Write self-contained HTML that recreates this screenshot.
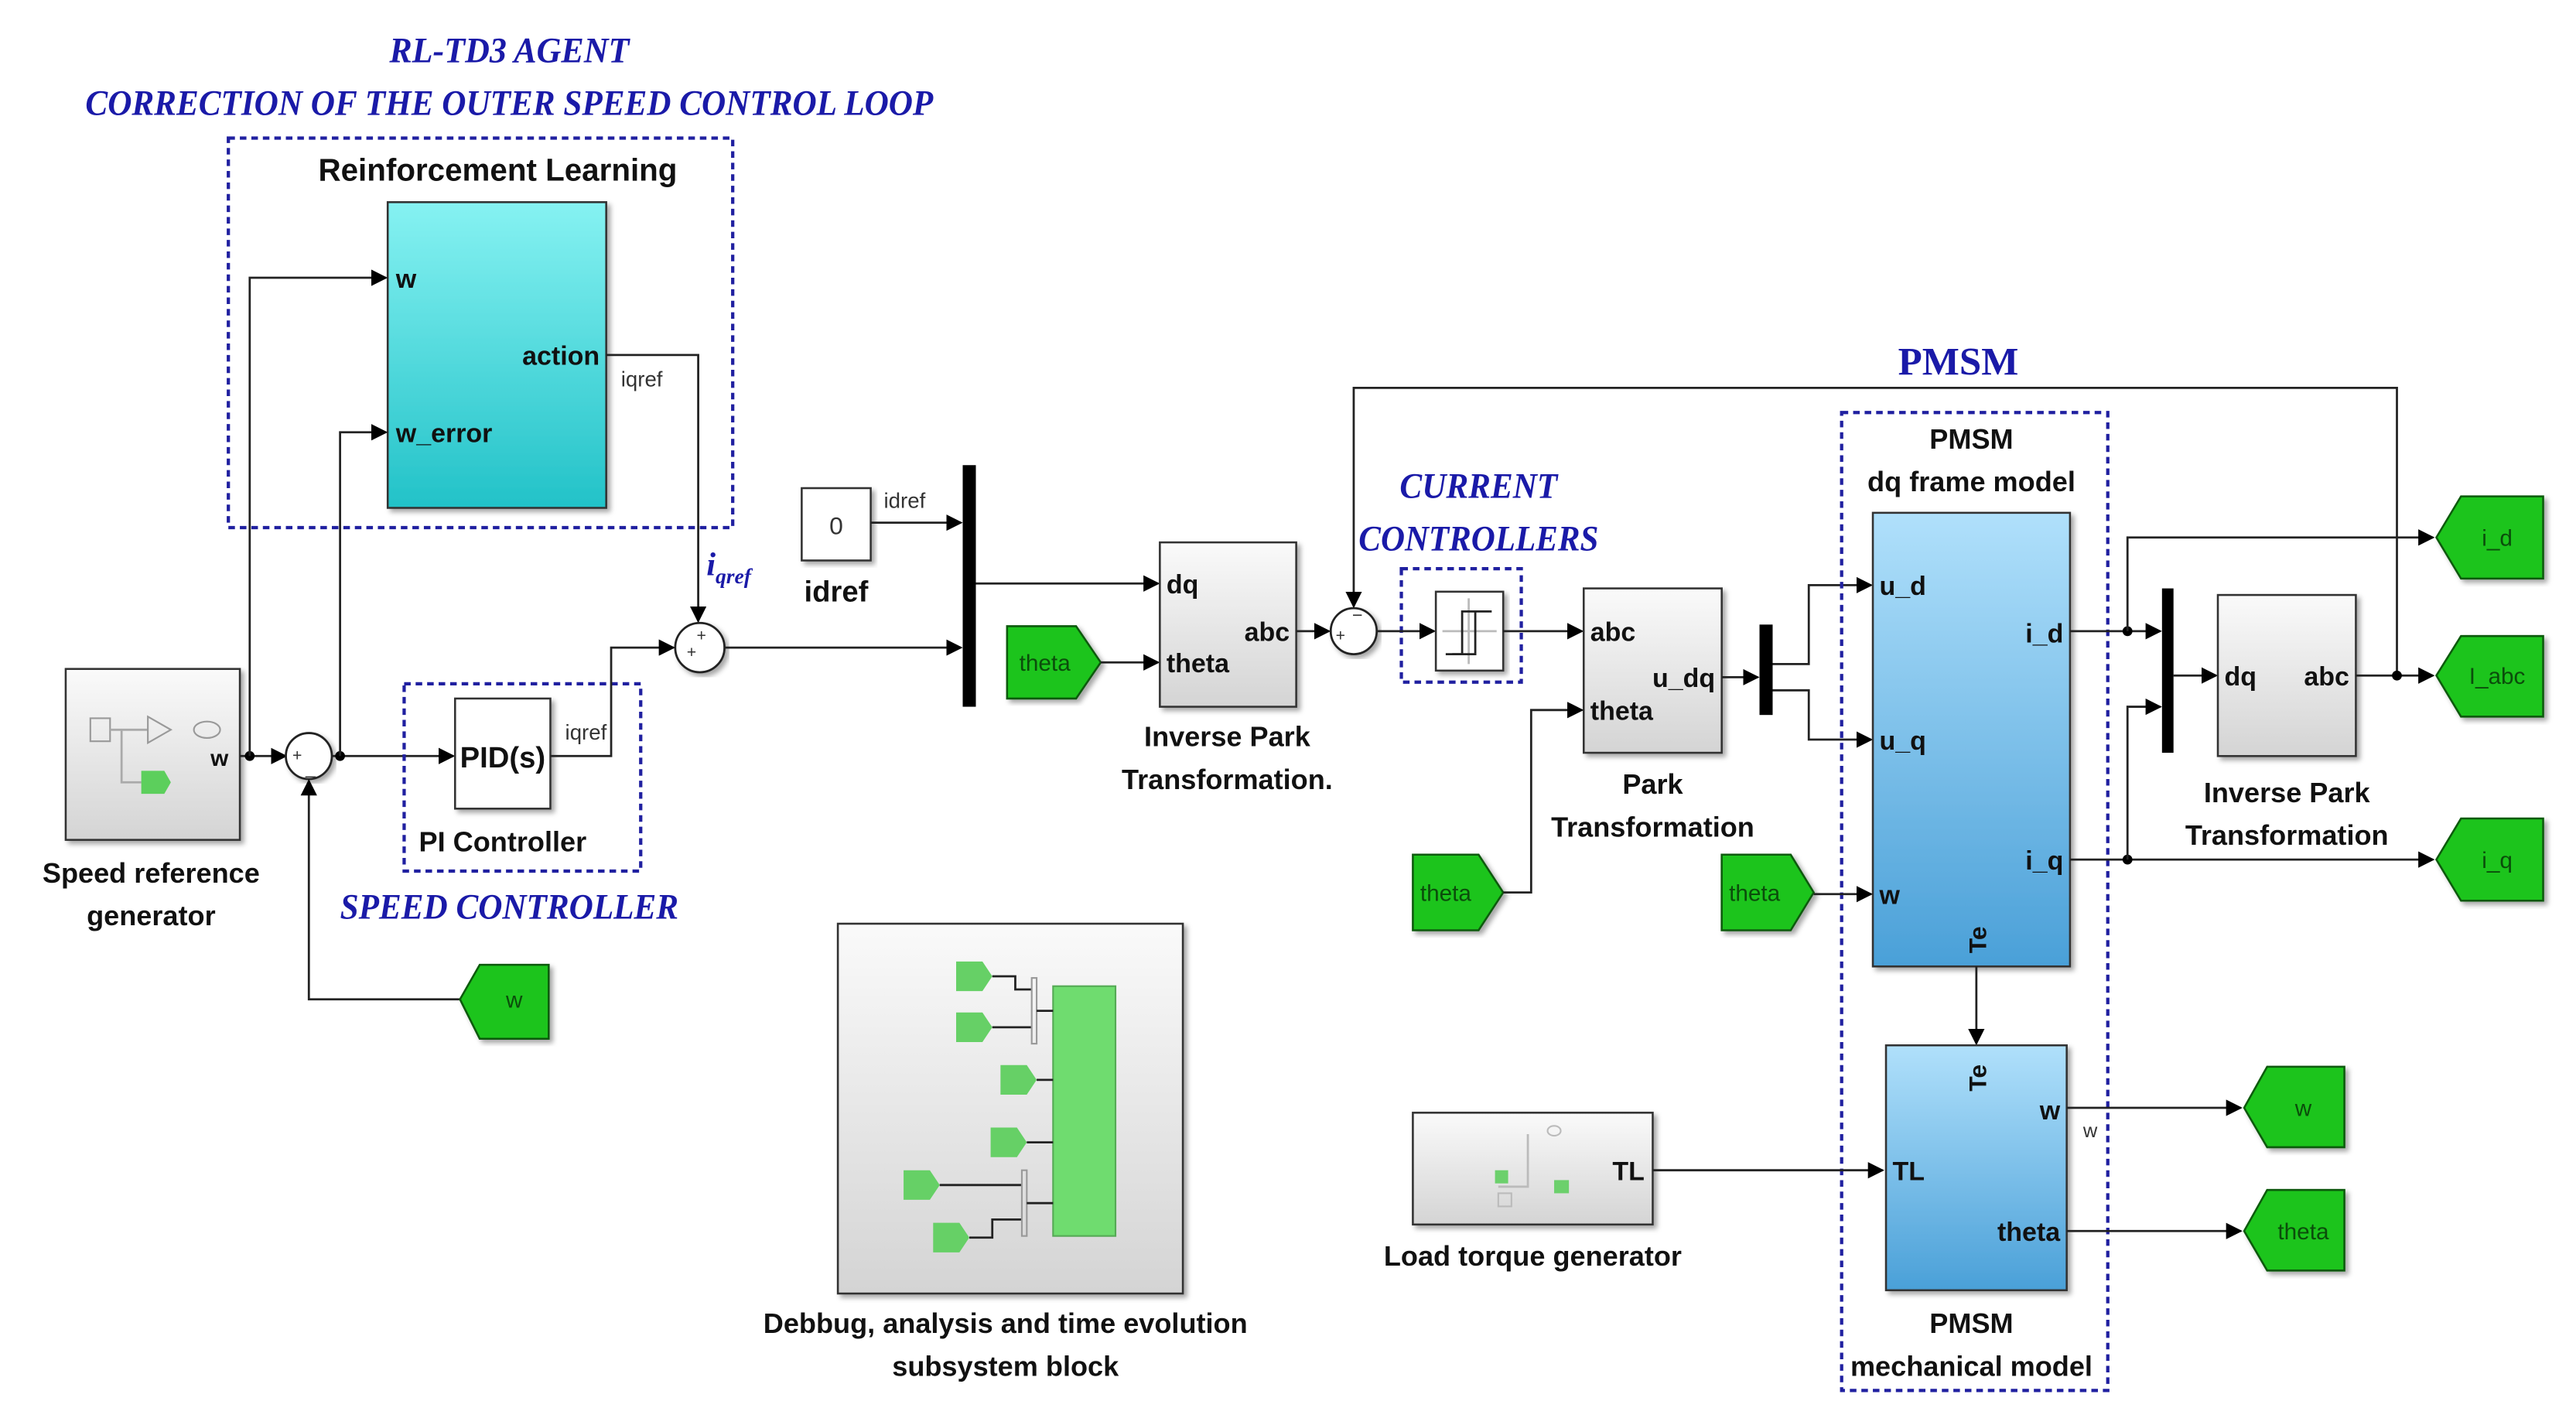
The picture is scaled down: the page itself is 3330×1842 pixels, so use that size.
<!DOCTYPE html>
<html><head><meta charset="utf-8"><style>
html,body{margin:0;padding:0;background:#fff;}
svg{display:block;}
.t{font-family:"Liberation Sans",sans-serif;font-weight:bold;fill:#111;}
.b{font-family:"Liberation Serif",serif;font-weight:bold;font-style:italic;fill:#1a1aa8;}
.s{font-family:"Liberation Sans",sans-serif;fill:#333;}
.g{font-family:"Liberation Sans",sans-serif;fill:#0b4d0b;font-size:14px;}
line,polyline,path.l{stroke:#222;stroke-width:1.3;fill:none;}
.d{stroke:#2020a0;stroke-width:2;fill:none;stroke-dasharray:4 3;}
.tag{fill:#1ec41e;stroke:#0a5a0a;stroke-width:1.2;}
.blk{stroke:#333;stroke-width:1.2;}
</style></head><body>
<svg width="3330" height="1842" viewBox="0 0 1568 867" preserveAspectRatio="none" xmlns="http://www.w3.org/2000/svg">
<defs>
<marker id="a" markerWidth="10" markerHeight="10" refX="9" refY="5" orient="auto" markerUnits="userSpaceOnUse"><path d="M0,0 L10,5 L0,10 z" fill="#000"/></marker>
<linearGradient id="gray" x1="0" y1="0" x2="0" y2="1"><stop offset="0" stop-color="#fafafa"/><stop offset="1" stop-color="#d4d4d4"/></linearGradient>
<linearGradient id="cyan" x1="0" y1="0" x2="0" y2="1"><stop offset="0" stop-color="#86f2f2"/><stop offset="1" stop-color="#22c2c8"/></linearGradient>
<linearGradient id="blue" x1="0" y1="0" x2="0" y2="1"><stop offset="0" stop-color="#b0e0fb"/><stop offset="1" stop-color="#4aa0d8"/></linearGradient>
<filter id="sh"><feDropShadow dx="2" dy="2" stdDeviation="1.5" flood-color="#000" flood-opacity="0.35"/></filter>
</defs>

<!-- titles -->
<text class="b" x="310" y="38" font-size="22" text-anchor="middle" textLength="146" lengthAdjust="spacingAndGlyphs">RL-TD3 AGENT</text>
<text class="b" x="310" y="70" font-size="22" text-anchor="middle" textLength="516" lengthAdjust="spacingAndGlyphs">CORRECTION OF THE OUTER SPEED CONTROL LOOP</text>
<rect class="d" x="139" y="84" width="307" height="237"/>
<text class="t" x="303" y="110" font-size="19" text-anchor="middle">Reinforcement Learning</text>
<rect x="236" y="123" width="133" height="186" fill="url(#cyan)" class="blk" filter="url(#sh)"/>
<text class="t" x="241" y="175" font-size="16">w</text>
<text class="t" x="241" y="269" font-size="16">w_error</text>
<text class="t" x="365" y="222" font-size="16" text-anchor="end">action</text>
<polyline points="369,216 425,216 425,378" marker-end="url(#a)"/>
<text class="s" x="378" y="235" font-size="13">iqref</text>
<text class="b" x="430" y="350" font-size="20">i<tspan font-size="13" dy="5">qref</tspan></text>

<!-- sum1 -->
<circle cx="426" cy="394" r="15" fill="#fff" stroke="#222" stroke-width="1.3" filter="url(#sh)"/>
<text class="s" x="418" y="400" font-size="10">+</text><text class="s" x="424" y="390" font-size="10">+</text>

<!-- speed ref generator -->
<rect x="40" y="407" width="106" height="104" fill="url(#gray)" class="blk" filter="url(#sh)"/>
<rect x="55" y="437" width="12" height="14" fill="none" stroke="#999"/>
<polyline points="67,444 90,444" style="stroke:#aaa"/><path d="M90,436 L104,444 L90,452z" fill="none" stroke="#999"/>
<ellipse cx="126" cy="444" rx="8" ry="5" fill="none" stroke="#999"/>
<polyline points="74,444 74,476 86,476" style="stroke:#aaa"/>
<path d="M86,469 L100,469 L104,476 L100,483 L86,483z" fill="#5ccf5c"/>
<text class="t" x="139" y="466" font-size="14" text-anchor="end">w</text>
<text class="t" x="92" y="537" font-size="17" text-anchor="middle">Speed reference</text>
<text class="t" x="92" y="563" font-size="17" text-anchor="middle">generator</text>
<line x1="146" y1="460" x2="174" y2="460" marker-end="url(#a)"/>
<circle cx="152" cy="460" r="3" fill="#000"/>
<polyline points="152,460 152,169 235,169" marker-end="url(#a)"/>
<circle cx="188" cy="460" r="14" fill="#fff" stroke="#222" stroke-width="1.3" filter="url(#sh)"/>
<text class="s" x="178" y="463" font-size="10">+</text><text class="s" x="186" y="471" font-size="11">_</text>
<line x1="202" y1="460" x2="276" y2="460" marker-end="url(#a)"/>
<circle cx="207" cy="460" r="3" fill="#000"/>
<polyline points="207,460 207,263 235,263" marker-end="url(#a)"/>
<polyline points="280,608 188,608 188,475" marker-end="url(#a)"/>
<path class="tag" d="M280,608 L292,587 L334,587 L334,632 L292,632 z" filter="url(#sh)"/>
<text class="g" x="313" y="613" text-anchor="middle">w</text>

<!-- PID -->
<rect class="d" x="246" y="416" width="144" height="114"/>
<rect x="277" y="425" width="58" height="67" fill="#fff" class="blk" filter="url(#sh)"/>
<text class="t" x="306" y="467" font-size="18" text-anchor="middle">PID(s)</text>
<text class="t" x="306" y="518" font-size="17" text-anchor="middle">PI Controller</text>
<text class="b" x="310" y="559" font-size="22" text-anchor="middle" textLength="206" lengthAdjust="spacingAndGlyphs">SPEED CONTROLLER</text>
<polyline points="335,460 372,460 372,394 410,394" marker-end="url(#a)"/>
<text class="s" x="344" y="450" font-size="13">iqref</text>

<!-- idref -->
<rect x="488" y="297" width="42" height="44" fill="#fff" class="blk" filter="url(#sh)"/>
<text class="s" x="509" y="325" font-size="15" text-anchor="middle">0</text>
<text class="t" x="509" y="366" font-size="18" text-anchor="middle">idref</text>
<line x1="530" y1="318" x2="585" y2="318" marker-end="url(#a)"/>
<text class="s" x="538" y="309" font-size="13">idref</text>
<line x1="441" y1="394" x2="585" y2="394" marker-end="url(#a)"/>
<rect x="586" y="283" width="8" height="147" fill="#000"/>
<line x1="594" y1="355" x2="705" y2="355" marker-end="url(#a)"/>

<!-- inverse park 1 -->
<path class="tag" d="M613,381 L655,381 L670,403 L655,425 L613,425 z" filter="url(#sh)"/>
<text class="g" x="636" y="408" text-anchor="middle">theta</text>
<line x1="670" y1="403" x2="705" y2="403" marker-end="url(#a)"/>
<rect x="706" y="330" width="83" height="100" fill="url(#gray)" class="blk" filter="url(#sh)"/>
<text class="t" x="710" y="361" font-size="16">dq</text>
<text class="t" x="710" y="409" font-size="16">theta</text>
<text class="t" x="785" y="390" font-size="16" text-anchor="end">abc</text>
<text class="t" x="747" y="454" font-size="17" text-anchor="middle">Inverse Park</text>
<text class="t" x="747" y="480" font-size="17" text-anchor="middle">Transformation.</text>
<line x1="789" y1="384" x2="809" y2="384" marker-end="url(#a)"/>
<circle cx="824" cy="384" r="14" fill="#fff" stroke="#222" stroke-width="1.3" filter="url(#sh)"/>
<text class="s" x="813" y="390" font-size="10">+</text><text class="s" x="823" y="378" font-size="11">−</text>
<polyline points="1459,411 1459,236 824,236 824,369" marker-end="url(#a)"/>
<text x="1192" y="228" font-size="24" text-anchor="middle" style="font-family:'Liberation Serif',serif;font-weight:bold;fill:#1a1aa8">PMSM</text>

<!-- current controllers -->
<text class="b" x="900" y="303" font-size="22" text-anchor="middle" textLength="96" lengthAdjust="spacingAndGlyphs">CURRENT</text>
<text class="b" x="900" y="335" font-size="22" text-anchor="middle" textLength="146" lengthAdjust="spacingAndGlyphs">CONTROLLERS</text>
<rect class="d" x="853" y="346" width="73" height="69"/>
<line x1="838" y1="384" x2="873" y2="384" marker-end="url(#a)"/>
<rect x="874" y="360" width="41" height="48" fill="#fff" class="blk" filter="url(#sh)"/>
<polyline points="878,384 911,384" style="stroke:#bbb"/><polyline points="894,364 894,404" style="stroke:#bbb"/>
<polyline points="880,398 890,398 890,372 908,372" /><polyline points="884,398 898,398 898,372" />
<line x1="915" y1="384" x2="963" y2="384" marker-end="url(#a)"/>

<!-- park -->
<rect x="964" y="358" width="84" height="100" fill="url(#gray)" class="blk" filter="url(#sh)"/>
<text class="t" x="968" y="390" font-size="16">abc</text>
<text class="t" x="968" y="438" font-size="16">theta</text>
<text class="t" x="1044" y="418" font-size="16" text-anchor="end">u_dq</text>
<text class="t" x="1006" y="483" font-size="17" text-anchor="middle">Park</text>
<text class="t" x="1006" y="509" font-size="17" text-anchor="middle">Transformation</text>
<path class="tag" d="M860,520 L900,520 L915,543 L900,566 L860,566 z" filter="url(#sh)"/>
<text class="g" x="880" y="548" text-anchor="middle">theta</text>
<polyline points="915,543 932,543 932,432 963,432" marker-end="url(#a)"/>
<line x1="1048" y1="412" x2="1070" y2="412" marker-end="url(#a)"/>
<rect x="1071" y="380" width="8" height="55" fill="#000"/>
<polyline points="1079,404 1101,404 1101,356 1139,356" marker-end="url(#a)"/>
<polyline points="1079,420 1101,420 1101,450 1139,450" marker-end="url(#a)"/>

<!-- PMSM -->
<rect class="d" x="1121" y="251" width="162" height="595"/>
<text class="t" x="1200" y="273" font-size="17" text-anchor="middle">PMSM</text>
<text class="t" x="1200" y="299" font-size="17" text-anchor="middle">dq frame model</text>
<rect x="1140" y="312" width="120" height="276" fill="url(#blue)" class="blk" filter="url(#sh)"/>
<text class="t" x="1144" y="362" font-size="16">u_d</text>
<text class="t" x="1144" y="456" font-size="16">u_q</text>
<text class="t" x="1144" y="550" font-size="16">w</text>
<text class="t" x="1256" y="391" font-size="16" text-anchor="end">i_d</text>
<text class="t" x="1256" y="529" font-size="16" text-anchor="end">i_q</text>
<text class="t" x="0" y="0" font-size="15" transform="translate(1209,580) rotate(-90)">Te</text>
<path class="tag" d="M1048,520 L1090,520 L1104,543 L1090,566 L1048,566 z" filter="url(#sh)"/>
<text class="g" x="1068" y="548" text-anchor="middle">theta</text>
<line x1="1104" y1="544" x2="1139" y2="544" marker-end="url(#a)"/>
<line x1="1203" y1="588" x2="1203" y2="635" marker-end="url(#a)"/>
<rect x="1148" y="636" width="110" height="149" fill="url(#blue)" class="blk" filter="url(#sh)"/>
<text class="t" x="0" y="0" font-size="15" transform="translate(1209,664) rotate(-90)">Te</text>
<text class="t" x="1254" y="681" font-size="16" text-anchor="end">w</text>
<text class="t" x="1152" y="718" font-size="16">TL</text>
<text class="t" x="1254" y="755" font-size="16" text-anchor="end">theta</text>
<text class="t" x="1200" y="811" font-size="17" text-anchor="middle">PMSM</text>
<text class="t" x="1200" y="837" font-size="17" text-anchor="middle">mechanical model</text>

<!-- load torque -->
<rect x="860" y="677" width="146" height="68" fill="url(#gray)" class="blk" filter="url(#sh)"/>
<polyline points="930,690 930,722 912,722 M930,705 942,705 M922,722 950,722" style="stroke:#bbb"/>
<ellipse cx="946" cy="688" rx="4" ry="3" fill="none" stroke="#bbb"/>
<rect x="910" y="712" width="8" height="8" fill="#6cd06c"/><rect x="946" y="718" width="9" height="8" fill="#6cd06c"/>
<rect x="912" y="726" width="8" height="8" fill="none" stroke="#bbb"/>
<text class="t" x="1001" y="718" font-size="16" text-anchor="end">TL</text>
<text class="t" x="933" y="770" font-size="17" text-anchor="middle">Load torque generator</text>
<line x1="1006" y1="712" x2="1146" y2="712" marker-end="url(#a)"/>

<line x1="1258" y1="674" x2="1364" y2="674" marker-end="url(#a)"/>
<text class="s" x="1268" y="692" font-size="12">w</text>
<path class="tag" d="M1366,674 L1380,649 L1427,649 L1427,698 L1380,698 z" filter="url(#sh)"/>
<text class="g" x="1402" y="679" text-anchor="middle">w</text>
<line x1="1258" y1="749" x2="1364" y2="749" marker-end="url(#a)"/>
<path class="tag" d="M1366,749 L1380,724 L1427,724 L1427,773 L1380,773 z" filter="url(#sh)"/>
<text class="g" x="1402" y="754" text-anchor="middle">theta</text>

<!-- outputs -->
<line x1="1260" y1="384" x2="1315" y2="384" marker-end="url(#a)"/>
<circle cx="1295" cy="384" r="3" fill="#000"/>
<polyline points="1295,384 1295,327 1481,327" marker-end="url(#a)"/>
<line x1="1260" y1="523" x2="1481" y2="523" marker-end="url(#a)"/>
<circle cx="1295" cy="523" r="3" fill="#000"/>
<polyline points="1295,523 1295,430 1315,430" marker-end="url(#a)"/>
<rect x="1316" y="358" width="7" height="100" fill="#000"/>
<line x1="1323" y1="411" x2="1349" y2="411" marker-end="url(#a)"/>
<rect x="1350" y="362" width="84" height="98" fill="url(#gray)" class="blk" filter="url(#sh)"/>
<text class="t" x="1354" y="417" font-size="16">dq</text>
<text class="t" x="1430" y="417" font-size="16" text-anchor="end">abc</text>
<text class="t" x="1392" y="488" font-size="17" text-anchor="middle">Inverse Park</text>
<text class="t" x="1392" y="514" font-size="17" text-anchor="middle">Transformation</text>
<line x1="1434" y1="411" x2="1481" y2="411" marker-end="url(#a)"/>
<circle cx="1459" cy="411" r="3" fill="#000"/>
<path class="tag" d="M1483,327 L1498,302 L1548,302 L1548,352 L1498,352 z" filter="url(#sh)"/>
<text class="g" x="1520" y="332" text-anchor="middle">i_d</text>
<path class="tag" d="M1483,411 L1498,387 L1548,387 L1548,436 L1498,436 z" filter="url(#sh)"/>
<text class="g" x="1520" y="416" text-anchor="middle">I_abc</text>
<path class="tag" d="M1483,523 L1498,498 L1548,498 L1548,548 L1498,548 z" filter="url(#sh)"/>
<text class="g" x="1520" y="528" text-anchor="middle">i_q</text>

<!-- debug -->
<rect x="510" y="562" width="210" height="225" fill="url(#gray)" class="blk" filter="url(#sh)"/>
<rect x="641" y="600" width="38" height="152" fill="#6fdc6f" stroke="#5a5"/>
<g fill="#66d066">
<path d="M582,585 L598,585 L604,594 L598,603 L582,603z"/>
<path d="M582,616 L598,616 L604,625 L598,634 L582,634z"/>
<path d="M609,648 L625,648 L631,657 L625,666 L609,666z"/>
<path d="M603,686 L619,686 L625,695 L619,704 L603,704z"/>
<path d="M550,712 L566,712 L572,721 L566,730 L550,730z"/>
<path d="M568,744 L584,744 L590,753 L584,762 L568,762z"/>
</g>
<g style="stroke:#999;stroke-width:1;fill:none">
<polyline points="604,594 618,594 618,602 628,602"/><polyline points="604,625 628,625"/>
<rect x="628" y="595" width="3" height="40"/>
<polyline points="631,615 641,615"/><polyline points="631,657 641,657"/><polyline points="625,695 641,695"/>
<polyline points="572,721 622,721"/><polyline points="590,753 604,753 604,742 622,742"/>
<rect x="622" y="712" width="3" height="40"/><polyline points="625,732 641,732"/>
</g>
<text class="t" x="612" y="811" font-size="17" text-anchor="middle">Debbug, analysis and  time evolution</text>
<text class="t" x="612" y="837" font-size="17" text-anchor="middle">subsystem block</text>
</svg>
</body></html>
